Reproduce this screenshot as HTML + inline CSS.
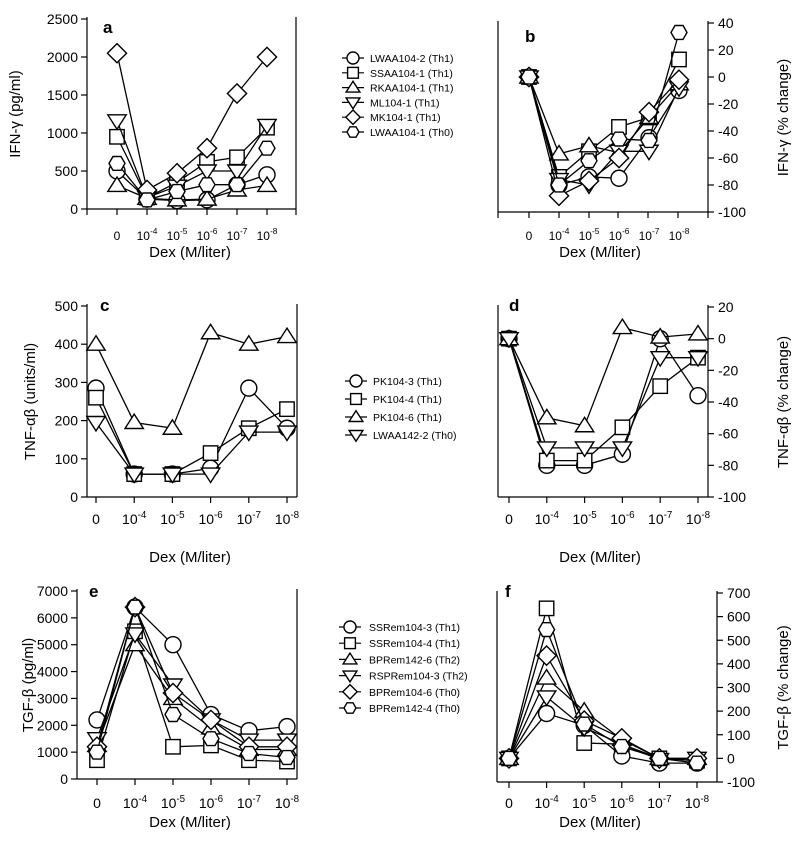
<!DOCTYPE html>
<html><head><meta charset="utf-8">
<style>
body{margin:0;background:#fff;}
svg{display:block;font-family:"Liberation Sans",Arial,sans-serif;}
</style></head>
<body>
<svg id="fig" width="802" height="850" viewBox="0 0 802 850"></svg>
<script>
const categories = ["0","-4","-5","-6","-7","-8"];
const markerTypes = ["circle","square","triangle","down","diamond","hexagon"];
// Panel a
const aCircle = [500,130,110,120,320,450];
const aSquare = [950,150,350,620,680,1070];
const aTriangle = [310,140,120,130,250,310];
const aDown = [1160,150,300,500,500,1100];
const aDiamond = [2050,250,470,800,1520,2000];
const aHexagon = [600,120,230,320,320,800];
const aTicks = [0,500,1000,1500,2000,2500];
// Panel b
const bCircle = [0,-80,-74,-75,-45,-10];
const bSquare = [0,-74,-55,-37,-30,13];
const bTriangle = [0,-57,-51,-56,-30,-5];
const bDown = [0,-76,-80,-55,-55,-8];
const bDiamond = [0,-88,-77,-60,-26,-2];
const bHexagon = [0,-80,-62,-46,-47,33];
const bTicks = [-100,-80,-60,-40,-20,0,20,40];
// Panel c
const cCircle = [285,60,60,75,285,180];
const cSquare = [260,60,60,115,180,230];
const cTriangle = [400,195,180,430,400,420];
const cDown = [195,60,60,60,170,170];
const cTicks = [0,100,200,300,400,500];
// Panel d
const dCircle = [0,-80,-80,-73,0,-36];
const dSquare = [0,-77,-77,-56,-30,-12];
const dTriangle = [0,-50,-55,7,1,3];
const dDown = [0,-69,-69,-69,-12,-12];
const dTicks = [-100,-80,-60,-40,-20,0,20];
// Panel e
const eCircle = [2200,6400,5000,2400,1800,1950];
const eSquare = [700,5500,1200,1250,700,650];
const eTriangle = [1250,5000,3000,1900,1100,1100];
const eDown = [1500,5400,3500,2200,1450,1450];
const eDiamond = [1200,6400,3200,2200,1200,1200];
const eHexagon = [1000,6400,2400,1500,950,800];
const eTicks = [0,1000,2000,3000,4000,5000,6000,7000];
// Panel f
const fCircle = [0,190,140,10,-20,-20];
const fSquare = [0,635,65,60,0,-10];
const fTriangle = [0,340,200,80,0,0];
const fDown = [0,260,130,60,-5,0];
const fDiamond = [0,435,160,85,0,0];
const fHexagon = [0,545,145,50,0,-20];
const fTicks = [-100,0,100,200,300,400,500,600,700];
// Legends
const legendA = ["LWAA104-2 (Th1)","SSAA104-1 (Th1)","RKAA104-1 (Th1)","ML104-1 (Th1)","MK104-1 (Th1)","LWAA104-1 (Th0)"];
const legendC = ["PK104-3 (Th1)","PK104-4 (Th1)","PK104-6 (Th1)","LWAA142-2 (Th0)"];
const legendE = ["SSRem104-3 (Th1)","SSRem104-4 (Th1)","BPRem142-6 (Th2)","RSPRem104-3 (Th2)","BPRem104-6 (Th0)","BPRem142-4 (Th0)"];

const NS="http://www.w3.org/2000/svg";
const svg=document.getElementById('fig');
function mk(tag,attrs,parent){const e=document.createElementNS(NS,tag);for(const k in attrs)e.setAttribute(k,attrs[k]);(parent||svg).appendChild(e);return e;}

function marker(g,type,x,y,r){
  let e;
  const st={fill:"#fff",stroke:"#000","stroke-width":1.4};
  if(type==="circle") e=mk("circle",Object.assign({cx:x,cy:y,r:r},st),g);
  else if(type==="square") e=mk("rect",Object.assign({x:x-r*0.9,y:y-r*0.9,width:r*1.8,height:r*1.8},st),g);
  else if(type==="triangle") e=mk("polygon",Object.assign({points:`${x},${y-r*1.05} ${x+r*1.15},${y+r*0.75} ${x-r*1.15},${y+r*0.75}`},st),g);
  else if(type==="down") e=mk("polygon",Object.assign({points:`${x},${y+r*1.05} ${x+r*1.15},${y-r*0.75} ${x-r*1.15},${y-r*0.75}`},st),g);
  else if(type==="diamond") e=mk("polygon",Object.assign({points:`${x},${y-r*1.2} ${x+r*1.2},${y} ${x},${y+r*1.2} ${x-r*1.2},${y}`},st),g);
  else {const p=[];for(let i=0;i<6;i++){const a=Math.PI/3*i;p.push((x+r*Math.cos(a)).toFixed(1)+","+(y+r*Math.sin(a)).toFixed(1));}e=mk("polygon",Object.assign({points:p.join(" ")},st),g);}
  return e;
}

function panel(o){
  const g=mk("g",{});
  
  
  const ys=v=>o.y0+(v-o.ymin)/(o.ymax-o.ymin)*(o.y1-o.y0);
  const xs=i=>o.cx0+i*o.dx;
  // axes lines
  const la=mk("line",{x1:o.left,y1:o.y1-2,x2:o.left,y2:o.y0,stroke:"#000","stroke-width":1.2},g);
  
  const ra=mk("line",{x1:o.right,y1:o.y1-2,x2:o.right,y2:o.y0,stroke:"#000","stroke-width":1.2},g);
  
  const xa=mk("line",{x1:o.left,y1:o.y0,x2:o.right,y2:o.y0,stroke:"#000","stroke-width":1.2},g);
  
  // x ticks
  const tickXs=o.tickXs;
  for(const tx of tickXs){const t=mk("line",{x1:tx,y1:o.y0,x2:tx,y2:o.y0+6,stroke:"#000","stroke-width":1.2},g);
    }
  categories.forEach((c,i)=>{
    const t=mk("text",{x:xs(i),y:o.xlabY,"text-anchor":"middle","font-size":o.fs},g);
    
    if(c==="0"){t.textContent="0";}
    else{t.textContent="10";const s=mk("tspan",{"font-size":o.fs*0.7,dy:-6},t);s.textContent=c;}
  });
  const xt=mk("text",{x:o.xtitleX,y:o.xtitleY,"text-anchor":"middle","font-size":15},g);
  xt.textContent="Dex (M/liter)";
  
  // y ticks
  o.ticks.forEach(v=>{
    const y=ys(v);
    const ax=o.yside==="left"?o.left:o.right;
    const d=o.yside==="left"?-6:6;
    const t=mk("line",{x1:ax,y1:y,x2:ax+d,y2:y,stroke:"#000","stroke-width":1.2},g);
    
    const lab=mk("text",{x:o.yside==="left"?ax-9:ax+10,y:y+5,"text-anchor":o.yside==="left"?"end":"start","font-size":14},g);
    lab.textContent=String(v);
    
  });
  const yt=mk("text",{x:0,y:0,"text-anchor":"middle","font-size":15,transform:`translate(${o.ytitleX},${(o.y0+o.y1)/2}) rotate(-90)`},g);
  yt.textContent=o.ytitle;
  
  const pl=mk("text",{x:o.letterX,y:o.letterY,"font-size":17,"font-weight":"bold"},g);
  pl.textContent=o.letter;
  
  // series
  o.series.forEach((vals,si)=>{
    const sg=mk("g",{},g);
    
    
    const pts=vals.map((v,i)=>xs(i).toFixed(1)+","+ys(v).toFixed(1)).join(" ");
    const line=mk("polyline",{points:pts,fill:"none",stroke:"#000","stroke-width":1.3},sg);
    
    vals.forEach((v,i)=>{const m=marker(sg,markerTypes[si],xs(i),ys(v),8);
      });
  });
}

function legend(names,mx,tx,y0,dy,nm){
  const g=mk("g",{});
  
  
  names.forEach((n,i)=>{
    const y=y0+i*dy;
    const eg=mk("g",{},g);
    
    
    mk("line",{x1:mx-11,y1:y,x2:mx+11,y2:y,stroke:"#000","stroke-width":1.2},eg);
    marker(eg,markerTypes[i],mx,y,6);
    const t=mk("text",{x:tx,y:y+4,"font-size":10.5},eg);
    t.textContent=n;
  });
}

panel({letter:"a",letterX:103,letterY:33,left:87,right:296,y0:209,y1:19,ymin:0,ymax:2500,cx0:117,dx:30,
  tickXs:[87,117,147,177,207,237,267,296],xlabY:240,fs:12,xtitleX:190,xtitleY:257,ticks:aTicks,yside:"left",
  ytitle:"IFN-γ (pg/ml)",ytitleX:20,series:[aCircle,aSquare,aTriangle,aDown,aDiamond,aHexagon]});
panel({letter:"b",letterX:525,letterY:42,left:498,right:708,y0:212,y1:23,ymin:-100,ymax:40,cx0:529,dx:30,
  tickXs:[498,529,559,589,618,648,678,708],xlabY:240,fs:12,xtitleX:600,xtitleY:257,ticks:bTicks,yside:"right",
  ytitle:"IFN-γ (% change)",ytitleX:788,series:[bCircle,bSquare,bTriangle,bDown,bDiamond,bHexagon]});
panel({letter:"c",letterX:100,letterY:311,left:87,right:297,y0:497,y1:306,ymin:0,ymax:500,cx0:96,dx:38.2,
  tickXs:[96,134.2,172.4,210.6,248.8,287],xlabY:524,fs:14,xtitleX:190,xtitleY:562,ticks:cTicks,yside:"left",
  ytitle:"TNF-αβ (units/ml)",ytitleX:35,series:[cCircle,cSquare,cTriangle,cDown]});
panel({letter:"d",letterX:509,letterY:311,left:498,right:708,y0:497,y1:307,ymin:-100,ymax:20,cx0:509,dx:37.8,
  tickXs:[509,546.8,584.6,622.4,660.2,698],xlabY:524,fs:14,xtitleX:600,xtitleY:562,ticks:dTicks,yside:"right",
  ytitle:"TNF-αβ (% change)",ytitleX:788,series:[dCircle,dSquare,dTriangle,dDown]});
panel({letter:"e",letterX:89,letterY:597,left:77,right:297,y0:779,y1:591,ymin:0,ymax:7000,cx0:97,dx:38,
  tickXs:[97,135,173,211,249,287],xlabY:808,fs:14,xtitleX:190,xtitleY:827,ticks:eTicks,yside:"left",
  ytitle:"TGF-β (pg/ml)",ytitleX:33,series:[eCircle,eSquare,eTriangle,eDown,eDiamond,eHexagon]});
panel({letter:"f",letterX:505,letterY:597,left:497,right:717,y0:782,y1:593,ymin:-100,ymax:700,cx0:509,dx:37.6,
  tickXs:[509,546.6,584.2,621.8,659.4,697],xlabY:808,fs:14,xtitleX:600,xtitleY:827,ticks:fTicks,yside:"right",
  ytitle:"TGF-β (% change)",ytitleX:788,series:[fCircle,fSquare,fTriangle,fDown,fDiamond,fHexagon]});

legend(legendA,353,370,58,14.8,"legend-a");
legend(legendC,356,373,381,18,"legend-c");
legend(legendE,350,369,627,16.2,"legend-e");
</script>
</body></html>
